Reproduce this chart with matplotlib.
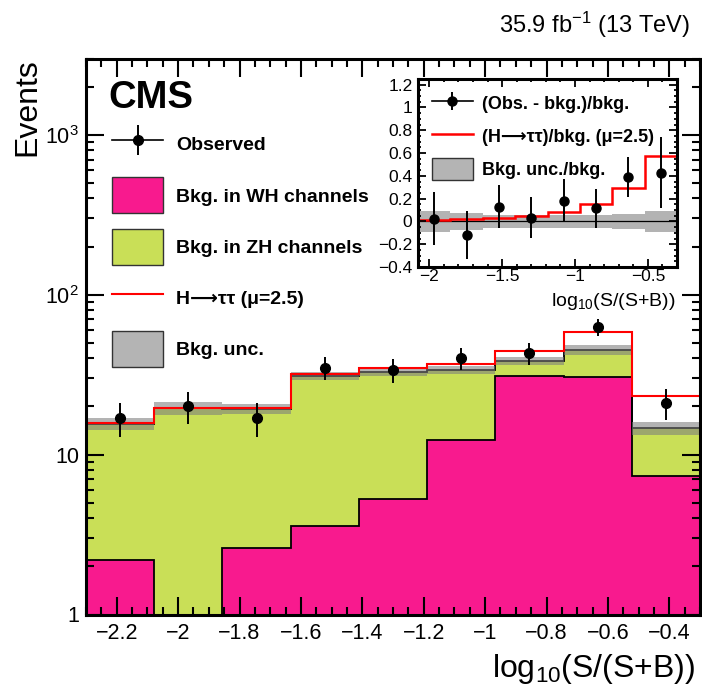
import numpy as np
import matplotlib
matplotlib.use("Agg")
import matplotlib.pyplot as plt
from matplotlib.lines import Line2D
from matplotlib.patches import Patch, Rectangle
from matplotlib.legend_handler import HandlerPatch
from matplotlib.ticker import MultipleLocator, LogLocator, FuncFormatter, NullFormatter

plt.rcParams['font.family'] = ['Liberation Sans', 'DejaVu Sans']
plt.rcParams['mathtext.default'] = 'regular'

# binning in log10(S/(S+B))
bin_edges = [-2.3, -2.078, -1.856, -1.633, -1.411, -1.189, -0.967, -0.744, -0.522, -0.3]

# events per bin
obs = [17, 20, 17, 35, 34, 40, 43, 63, 21]
bkg_wh = [2.2, 0.0, 2.6, 3.6, 5.3, 12.3, 31.0, 30.6, 7.3]
bkg_zh = [13.4, 19.5, 16.7, 27.4, 27.6, 21.5, 7.5, 14.6, 7.4]
sig_htt = [0.15, 0.2, 0.4, 0.9, 1.7, 2.8, 6.0, 13.4, 8.4]   # mu = 2.5
bkg_unc = [0.08, 0.095, 0.075, 0.06, 0.06, 0.055, 0.055, 0.065, 0.095]  # relative

pink = '#F81A8E'
green = '#C9DF57'
band_col = '#7D7D7D'

W, H = 702, 688
def fx(px):
    return px / W
def fy(py):
    return 1 - py / H

edges = np.array(bin_edges)
centers = 0.5 * (edges[:-1] + edges[1:])
obs_a = np.array(obs, dtype=float)
wh = np.array(bkg_wh)
tot = wh + np.array(bkg_zh)
sig = np.array(sig_htt)
unc = np.array(bkg_unc)

def num_fmt(v, pos):
    v = round(v, 6) + 0.0
    return f'{v:g}'.replace('-', '\u2212')

def log_fmt(v, pos):
    labels = {1: '1', 10: '10', 100: '10$^{2}$', 1000: '10$^{3}$'}
    return labels.get(int(round(v)), '')

def box_handler(h_pt):
    # legend box of fixed height (points), centred on the row
    def make(legend, orig_handle, xdescent, ydescent, width, height, fontsize):
        return Rectangle((-xdescent, -ydescent + height / 2 - h_pt / 2), width, h_pt)
    return HandlerPatch(patch_func=make)

fig = plt.figure(figsize=(W / 100, H / 100), dpi=100)

# ---- main panel
ax = fig.add_axes([fx(86), fy(614.5), fx(700) - fx(86), fy(58.5) - fy(614.5)])
ax.stairs(tot, edges, baseline=1e-2, fill=True, color=green, zorder=1)
ax.stairs(wh, edges, baseline=1e-2, fill=True, color=pink, zorder=1.1)
ax.stairs(wh, edges, baseline=1e-2, color='k', lw=1.3, zorder=1.2)
ax.stairs(tot, edges, baseline=None, color='k', lw=1.3, zorder=1.3)
ax.stairs(tot * (1 + unc), edges, baseline=tot * (1 - unc), fill=True,
          color=band_col, alpha=0.58, lw=0, zorder=1.4)
ax.stairs(tot + sig, edges, baseline=None, color='red', lw=1.5, zorder=1.5)
ax.errorbar(centers, obs_a, yerr=np.sqrt(obs_a), fmt='o', color='k', ms=7,
            elinewidth=1.4, capsize=0, zorder=5)

ax.set_yscale('log')
ax.set_ylim(1, 3000)
ax.set_xlim(edges[0], edges[-1])
ax.xaxis.set_major_locator(MultipleLocator(0.2))
ax.xaxis.set_minor_locator(MultipleLocator(0.05))
ax.xaxis.set_major_formatter(FuncFormatter(num_fmt))
ax.yaxis.set_major_locator(LogLocator(base=10))
ax.yaxis.set_minor_locator(LogLocator(base=10, subs=np.arange(2, 10)))
ax.yaxis.set_major_formatter(FuncFormatter(log_fmt))
ax.yaxis.set_minor_formatter(NullFormatter())
ax.tick_params(which='both', direction='in', top=True, right=True, width=1.5)
ax.tick_params(which='major', length=13)
ax.tick_params(which='minor', length=6)
ax.tick_params(axis='x', labelsize=15.5, pad=6)
ax.tick_params(axis='y', labelsize=15.5, pad=5)
for s in ax.spines.values():
    s.set_linewidth(2.2)

obs_handle = (Line2D([], [], color='k', lw=1.2),
              Line2D([], [], color='k', marker='o', ms=7, ls='none'),
              Line2D([], [], color='k', marker='|', ms=21, mew=1.4, ls='none'))
handles = [obs_handle,
           Patch(facecolor=pink, edgecolor='#333333', lw=1),
           Patch(facecolor=green, edgecolor='#333333', lw=1),
           Line2D([], [], color='red', lw=1.5),
           Patch(facecolor='#B4B4B4', edgecolor='#333333', lw=1)]
labels = ['Observed', 'Bkg. in WH channels', 'Bkg. in ZH channels',
          'H\u27f6\u03c4\u03c4 (\u03bc=2.5)', 'Bkg. unc.']
ax.legend(handles, labels, loc='upper left', bbox_to_anchor=(fx(112), fy(130)),
          bbox_transform=fig.transFigure, frameon=False, borderpad=0, borderaxespad=0,
          prop={'weight': 'bold', 'size': 14}, handlelength=2.63, handleheight=1.86,
          labelspacing=1.18, handletextpad=0.65,
          handler_map={Patch: box_handler(26)})

# ---- inset: relative to background
ax_in = fig.add_axes([fx(418), fy(267), fx(677) - fx(418), fy(79) - fy(267)])
ax_in.set_facecolor('white')
e_in = edges[1:]
c_in = centers[1:]
b_in = tot[1:]
ax_in.stairs(unc[1:], e_in, baseline=-unc[1:], fill=True, color=band_col, alpha=0.58,
             lw=0, zorder=1)
ax_in.axhline(0, color='k', lw=0.9, zorder=1.2)
ax_in.stairs(sig[1:] / b_in, e_in, baseline=-1, color='red', lw=1.8, zorder=1.5)
ax_in.errorbar(c_in, (obs_a[1:] - b_in) / b_in, yerr=np.sqrt(obs_a[1:]) / b_in, fmt='o',
               color='k', ms=6.5, elinewidth=1.4, capsize=0, zorder=5)
ax_in.set_xlim(e_in[0], e_in[-1])
ax_in.set_ylim(-0.4, 1.25)
ax_in.xaxis.set_major_locator(MultipleLocator(0.5))
ax_in.xaxis.set_minor_locator(MultipleLocator(0.1))
ax_in.yaxis.set_major_locator(MultipleLocator(0.2))
ax_in.yaxis.set_minor_locator(MultipleLocator(0.05))
ax_in.xaxis.set_major_formatter(FuncFormatter(num_fmt))
ax_in.yaxis.set_major_formatter(FuncFormatter(num_fmt))
ax_in.tick_params(which='both', direction='in', top=True, right=True, width=1.3)
ax_in.tick_params(which='major', length=5.5)
ax_in.tick_params(which='minor', length=2.5)
ax_in.tick_params(axis='x', labelsize=12.5, pad=1.5)
ax_in.tick_params(axis='y', labelsize=12.5, pad=4)
for s in ax_in.spines.values():
    s.set_linewidth(2.2)

in_obs = (Line2D([], [], color='k', lw=1.2),
          Line2D([], [], color='k', marker='o', ms=6.5, ls='none'),
          Line2D([], [], color='k', marker='|', ms=12.7, mew=1.4, ls='none'))
ax_in.legend([in_obs, Line2D([], [], color='red', lw=1.8),
              Patch(facecolor='#B4B4B4', edgecolor='#333333', lw=1)],
             ['(Obs. - bkg.)/bkg.', '(H\u27f6\u03c4\u03c4)/bkg. (\u03bc=2.5)',
              'Bkg. unc./bkg.'],
             loc='upper left', bbox_to_anchor=(fx(431.7), fy(93.5)),
             bbox_transform=fig.transFigure, frameon=False, borderpad=0, borderaxespad=0,
             prop={'weight': 'bold', 'size': 13}, handlelength=2.27, handleheight=1.23,
             labelspacing=0.74, handletextpad=0.5,
             handler_map={Patch: box_handler(15.8)})

# ---- texts
fig.text(fx(108), fy(108.3), 'CMS', weight='bold', size=27.5, ha='left', va='baseline')
fig.text(fx(690), fy(33.3), '35.9 fb$^{-1}$ (13 TeV)', size=17, ha='right', va='baseline')
fig.text(fx(695), fy(677), 'log$_{10}$(S/(S+B))', size=23, ha='right', va='baseline')
fig.text(fx(27), fy(58.5), 'Events', size=23, rotation=90, ha='center', va='top')
fig.text(fx(675), fy(306), 'log$_{10}$(S/(S+B))', size=14, ha='right', va='baseline')

fig.savefig('out.png', dpi=100)
